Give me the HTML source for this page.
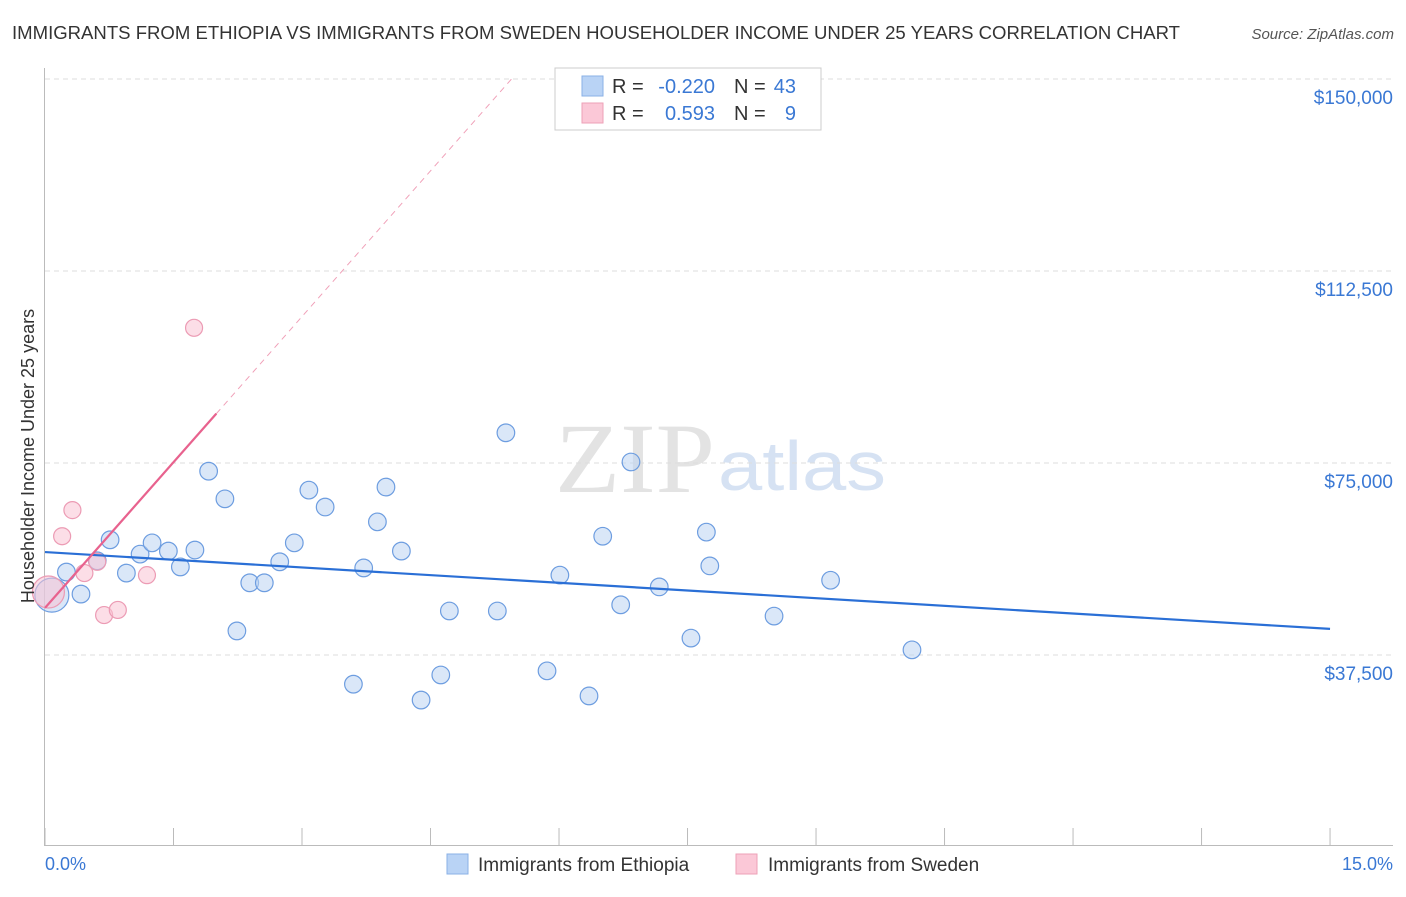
<!DOCTYPE html>
<html><head><meta charset="utf-8"><style>
body{margin:0;background:#fff;font-family:"Liberation Sans",sans-serif}
</style></head><body>
<svg width="1406" height="892" xmlns="http://www.w3.org/2000/svg" font-family="Liberation Sans, sans-serif">
<text x="12" y="39" font-size="18" fill="#333" textLength="1168" lengthAdjust="spacingAndGlyphs">IMMIGRANTS FROM ETHIOPIA VS IMMIGRANTS FROM SWEDEN HOUSEHOLDER INCOME UNDER 25 YEARS CORRELATION CHART</text>
<text x="1394" y="39" font-size="15" fill="#555" text-anchor="end" font-style="italic">Source: ZipAtlas.com</text>
<text x="555" y="492" font-size="100" fill="#e3e3e3" textLength="160" lengthAdjust="spacingAndGlyphs" font-family="Liberation Serif, serif">ZIP</text>
<text x="718" y="490" font-size="70" fill="#d6e2f3" textLength="168" lengthAdjust="spacingAndGlyphs">atlas</text>
<g id="grid"></g><g id="axes"></g><g id="marks"></g>
<text transform="translate(34,456) rotate(-90)" font-size="18" fill="#333" text-anchor="middle">Householder Income Under 25 years</text>
<text x="45" y="870" font-size="18" fill="#3a78d4">0.0%</text>
<text x="1393" y="870" font-size="18" fill="#3a78d4" text-anchor="end">15.0%</text>
<g>
<rect x="555" y="68" width="266" height="62" fill="#fff" stroke="#ccc"/>
<rect x="582" y="76" width="21" height="20" fill="#b9d3f5" stroke="#8ab0e6"/>
<rect x="582" y="103" width="21" height="20" fill="#fbc8d7" stroke="#eea1b7"/>
<text x="612" y="93" font-size="20" fill="#333">R =</text>
<text x="715" y="93" font-size="20" fill="#3a78d4" text-anchor="end">-0.220</text>
<text x="734" y="93" font-size="20" fill="#333">N =</text>
<text x="796" y="93" font-size="20" fill="#3a78d4" text-anchor="end">43</text>
<text x="612" y="120" font-size="20" fill="#333">R =</text>
<text x="715" y="120" font-size="20" fill="#3a78d4" text-anchor="end">0.593</text>
<text x="734" y="120" font-size="20" fill="#333">N =</text>
<text x="796" y="120" font-size="20" fill="#3a78d4" text-anchor="end">9</text>
</g>
<g>
<rect x="447" y="854" width="21" height="20" fill="#b9d3f5" stroke="#8ab0e6"/>
<text x="478" y="871" font-size="19" fill="#333">Immigrants from Ethiopia</text>
<rect x="736" y="854" width="21" height="20" fill="#fbc8d7" stroke="#eea1b7"/>
<text x="768" y="871" font-size="19" fill="#333">Immigrants from Sweden</text>
</g>
</svg>
<script>
const yTicks=[37500,75000,112500,150000];
const yTickLabels=["$37,500","$75,000","$112,500","$150,000"];
const xTicks=[0,1.5,3,4.5,6,7.5,9,10.5,12,13.5,15];
const ethX=[0.08,0.25,0.42,0.61,0.76,0.95,1.11,1.25,1.44,1.58,1.75,1.91,2.10,2.24,2.39,2.56,2.74,2.91,3.08,3.27,3.60,3.72,3.88,3.98,4.16,4.39,4.62,4.72,5.28,5.38,5.86,6.01,6.35,6.51,6.72,6.84,7.17,7.54,7.72,7.76,8.51,9.17,10.12];
const ethY=[49.2,53.7,49.4,55.9,60.0,53.5,57.2,59.4,57.8,54.7,58.0,73.4,68.0,42.2,51.6,51.6,55.7,59.4,69.7,66.4,31.8,54.5,63.5,70.3,57.8,28.7,33.6,46.1,46.1,80.9,34.4,53.1,29.5,60.7,47.3,75.2,50.8,40.8,61.5,54.9,45.1,52.1,38.5];
const sweX=[0.04,0.32,0.20,0.46,0.61,0.69,0.85,1.19,1.74];
const sweY=[49.8,65.8,60.7,53.5,55.7,45.3,46.3,53.1,101.4];
const ethTrend=[57.6,42.6];
const sweTrend=[46.7,18.97];
const NS="http://www.w3.org/2000/svg";
const X=v=>45+v*85.67, Y=k=>847-k*1000*192/37500;
function mk(t,a,p){const e=document.createElementNS(NS,t);for(const k in a)e.setAttribute(k,a[k]);p.appendChild(e);return e;}
const grid=document.getElementById('grid'),axes=document.getElementById('axes'),marks=document.getElementById('marks');
yTicks.forEach((t,i)=>{
 const l=mk('line',{x1:45,x2:1393,y1:Y(t/1000),y2:Y(t/1000),stroke:'#ddd','stroke-dasharray':'5,4'},grid);
 
 
 const tx=mk('text',{x:1393,y:Y(t/1000)+25,'font-size':19,fill:'#3a78d4','text-anchor':'end'},grid);
 tx.textContent=yTickLabels[i];
 
 
});
mk('line',{x1:44.5,x2:44.5,y1:68,y2:846,stroke:'#bbb'},axes);
mk('line',{x1:44,x2:1393,y1:845.5,y2:845.5,stroke:'#bbb'},axes);
xTicks.forEach(t=>{
 const l=mk('line',{x1:X(t),x2:X(t),y1:828,y2:846,stroke:'#bbb'},axes);
 
 
});
function dot(x,y,r,f,s,name){
 const c=mk('circle',{cx:X(x),cy:Y(y),r:r,fill:f,stroke:s,'stroke-width':1.2,'fill-opacity':0.55},marks);
 
 
}
ethX.forEach((x,i)=>dot(x,ethY[i],i==0?17:8.8,'#bcd4f3','#6d9de0','ethiopia-point'));
sweX.forEach((x,i)=>dot(x,sweY[i],i==0?16:8.5,'#f9c3d3','#ec9bb4','sweden-point'));
const bl=mk('line',{x1:X(0),y1:Y(ethTrend[0]),x2:X(15),y2:Y(ethTrend[1]),stroke:'#2a6fd6','stroke-width':2.2},marks);


const xe=(150-sweTrend[0])/sweTrend[1];
const pd=mk('line',{x1:X(2.0),y1:Y(sweTrend[0]+2.0*sweTrend[1]),x2:X(xe),y2:Y(150),stroke:'#f0a0b8','stroke-width':1,'stroke-dasharray':'6,5'},marks);


const ps=mk('line',{x1:X(0),y1:Y(sweTrend[0]),x2:X(2.0),y2:Y(sweTrend[0]+2.0*sweTrend[1]),stroke:'#e8628e','stroke-width':2.2},marks);


</script>
</body></html>
